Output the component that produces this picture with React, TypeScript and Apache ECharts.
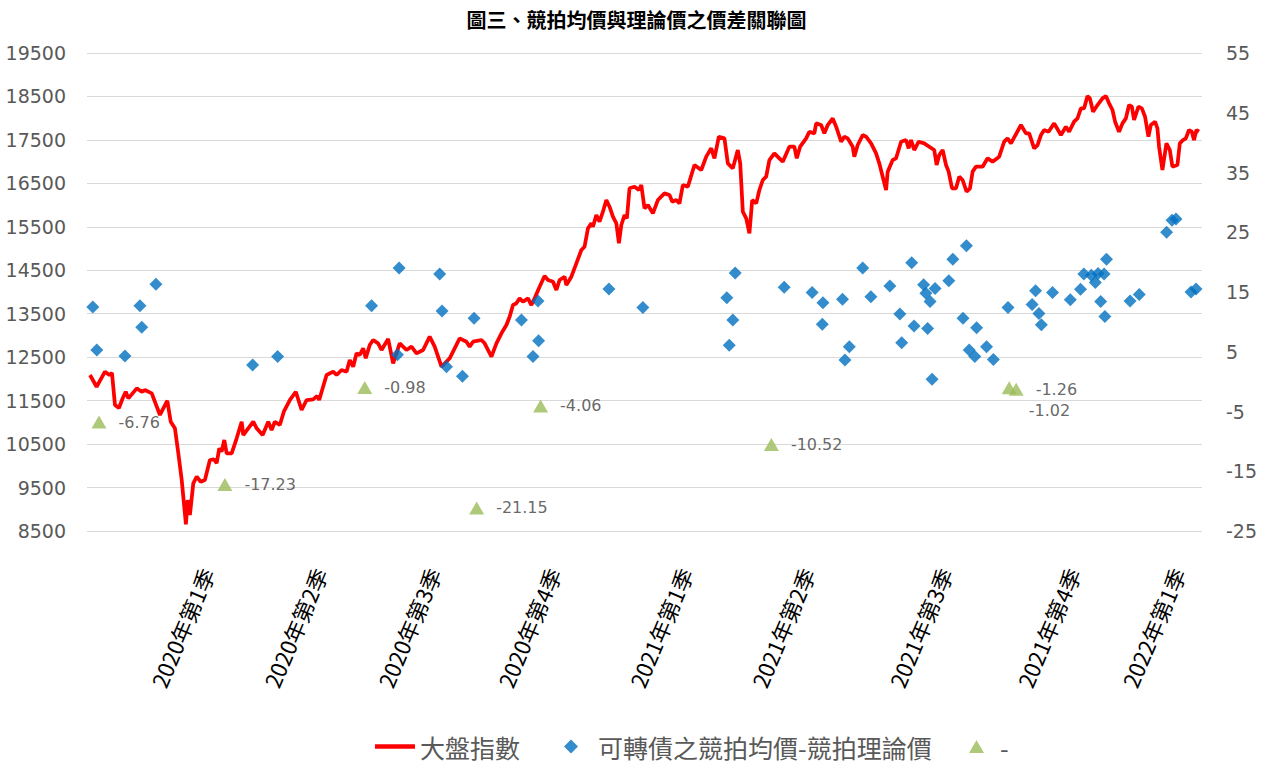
import React, { useEffect, useRef } from "react";
import * as echarts from "echarts";

// x unit: trading-day index from the start of the chart
const quarterLabels = [
  "2020年第1季", "2020年第2季", "2020年第3季", "2020年第4季",
  "2021年第1季", "2021年第2季", "2021年第3季", "2021年第4季", "2022年第1季",
];
const quarterTicks = [60, 116.5, 173.5, 233.5, 299.5, 360.5, 429.5, 493.5, 546];

const leftTicks = { min: 8500, max: 19500, interval: 1000 };
const rightTicks = { min: -25, max: 55, interval: 10 };

// 大盤指數 [day, close]
const indexPoints: [number, number][] = [
  [1.5, 12090], [4.8, 11820], [9, 12166], [11.2, 12090], [12.5, 12135], [14, 11399], [16, 11330],
  [17.9, 11560], [19.4, 11705], [20.7, 11553], [24.9, 11783], [27.4, 11705], [29, 11744], [32.4, 11668],
  [36.5, 11170], [40.2, 11498], [41.9, 11015], [44, 10863], [45.7, 10288], [47.4, 9674], [49.5, 8654],
  [50.4, 9213], [51.5, 8868], [53.2, 9598], [54.9, 9750], [56.9, 9634], [59, 9674], [61.5, 10134],
  [63.5, 10150], [64.9, 10058], [66.2, 10403], [67.4, 10325], [68.7, 10594], [69.9, 10288], [72.4, 10288],
  [74.9, 10633], [77.4, 11015], [78.2, 10709], [80.7, 10863], [83.2, 11015], [84.9, 10863], [87.9, 10709],
  [90.7, 11015], [92.4, 10824], [94, 11015], [96.5, 10939], [98.5, 11245], [101.5, 11514], [104.5, 11705],
  [107.4, 11284], [109.9, 11514], [113.2, 11530], [115.2, 11606], [116.2, 11514], [119.9, 12090], [123.2, 12166],
  [124.9, 12090], [127.4, 12205], [129.9, 12166], [131.5, 12435], [133.2, 12281], [134.9, 12589], [136.5, 12550],
  [138.2, 12704], [139.5, 12474], [141.5, 12780], [143.2, 12895], [145.7, 12819], [147.4, 12665], [150.7, 12920],
  [153.2, 12359], [156.5, 12819], [159.9, 12665], [162.4, 12742], [164.9, 12589], [168.2, 12665], [171.5, 12972],
  [174, 12742], [177.4, 12281], [181.5, 12474], [186.5, 12934], [189.9, 12856], [191.5, 12742], [193.2, 12856],
  [197.4, 12895], [199, 12819], [202.4, 12511], [204.9, 12819], [207.4, 13049], [209.9, 13240], [211.5, 13431],
  [213.2, 13700], [214.9, 13740], [216.5, 13854], [218.2, 13776], [220.7, 13854], [222.4, 13700], [224, 13854],
  [226.5, 14121], [229, 14367], [230.7, 14275], [233.2, 14237], [234.9, 14045], [236.5, 14275], [239, 14352],
  [239.9, 14160], [242.4, 14352], [244.9, 14659], [247.4, 14966], [249, 15042], [250.7, 15465], [252.4, 15580],
  [253.2, 15502], [254.9, 15772], [256.5, 15618], [258.2, 15848], [259.9, 16116], [261.5, 15963], [263.2, 15733],
  [264.9, 15580], [266.2, 15120], [267.4, 15541], [269, 15772], [270.2, 15695], [271.5, 16386], [274, 16424],
  [276.2, 16347], [277.4, 16462], [279, 15925], [280.7, 16001], [283.2, 15810], [285.7, 16116], [289, 16270],
  [291.5, 16231], [292.9, 16077], [294.9, 16116], [296.5, 16040], [298.2, 16462], [300.7, 16424], [304, 16923],
  [307.4, 16808], [309.9, 17115], [312.4, 17306], [314, 17076], [316.2, 17574], [319, 17536], [320.7, 16961],
  [323.2, 16846], [325.7, 17267], [326.9, 16961], [328.2, 15848], [329.9, 15695], [331.5, 15350], [332.9, 16116],
  [334.9, 16040], [336.5, 16347], [338.2, 16577], [339.9, 16654], [341.5, 17037], [344, 17191], [346.5, 17076],
  [348.2, 16999], [351.5, 17344], [354, 17344], [355.2, 17076], [356.9, 17344], [359.9, 17536], [361.5, 17689],
  [364, 17651], [364.9, 17881], [367.4, 17843], [369, 17651], [370.7, 17843], [373.2, 17996], [374.9, 17804],
  [377.4, 17459], [379, 17574], [380.7, 17536], [383.2, 17344], [384, 17115], [385.7, 17382], [388.2, 17612],
  [389.9, 17574], [392.4, 17421], [394.9, 17191], [396.5, 16961], [398.2, 16654], [399.9, 16347], [400.7, 16769],
  [403.2, 17037], [404.9, 17076], [407.4, 17459], [409.9, 17497], [411.2, 17306], [412.4, 17497], [414, 17267],
  [416.2, 17459], [419, 17421], [421.5, 17344], [424, 17267], [425.2, 16923], [426.5, 17153], [428.2, 17267],
  [429.9, 16923], [431.2, 16769], [432.9, 16386], [434.9, 16386], [436.5, 16654], [438.2, 16577], [440.2, 16308],
  [441.9, 16386], [443.2, 16769], [444.9, 16884], [448.2, 16884], [450.7, 17076], [453.2, 16999], [456.5, 17115],
  [459, 17459], [460.7, 17536], [462.4, 17421], [467.4, 17843], [469.9, 17651], [471.5, 17651], [474, 17306],
  [475.7, 17382], [477.4, 17612], [479, 17727], [481.2, 17689], [484, 17881], [487.4, 17612], [489.9, 17804],
  [491.5, 17689], [494, 17919], [495.7, 17996], [497.4, 18226], [499, 18226], [500.7, 18509], [501.9, 18456],
  [503.5, 18149], [505.7, 18303], [508.2, 18456], [509.9, 18509], [511.5, 18341], [513.2, 18188], [514.5, 17919],
  [516.5, 17689], [518.2, 17881], [519.9, 17996], [521.5, 18303], [522.9, 18265], [524, 17958], [526.2, 18265],
  [527.9, 18226], [529.5, 18034], [531.2, 17574], [532.4, 17843], [534.5, 17919], [535.7, 17766], [536.5, 17344],
  [538.2, 16808], [540.2, 17421], [541.9, 17267], [543.2, 16884], [545.7, 16923], [546.9, 17421], [548.5, 17497],
  [549.9, 17536], [551.5, 17727], [552.9, 17689], [554, 17497], [555.2, 17727], [556.5, 17689],
];

// 可轉債之競拍均價-競拍理論價 [day, spread]
const spreadPoints: [number, number][] = [
  [2.9, 12.5], [4.9, 5.3], [19, 4.3], [26.5, 12.7], [27.4, 9.1], [34.5, 16.3], [82.9, 2.8], [95.4, 4.2],
  [142.4, 12.7], [156.2, 19.0], [155.4, 4.5], [176.5, 18.0], [177.7, 11.8], [179.9, 2.5], [187.9, 0.9],
  [193.7, 10.6], [217.4, 10.3], [225.7, 13.5], [226, 6.85], [223.2, 4.2], [261.2, 15.5], [278.2, 12.4],
  [320.2, 14.05], [324.4, 18.2], [323.2, 10.3], [321.4, 6.1], [348.9, 15.8], [362.9, 14.9], [368.3, 13.2],
  [368, 9.6], [378.1, 13.8], [381.5, 5.85], [379.3, 3.6], [388.2, 19.0], [392.3, 14.2], [401.8, 16.0],
  [406.8, 11.3], [407.7, 6.5], [412.7, 19.9], [413.9, 9.3], [418.7, 16.2], [419.8, 14.8], [421.9, 13.4],
  [424.4, 15.6], [420.7, 8.9], [422.9, 0.4], [431.3, 16.9], [433.3, 20.5], [440.1, 22.75], [438.4, 10.6],
  [445.2, 9.0], [441.5, 5.3], [444.3, 4.2], [450.2, 5.85], [453.6, 3.7], [460.9, 12.4], [473, 12.9],
  [474.7, 15.2], [476.4, 11.4], [477.6, 9.5], [483.2, 14.9], [492.1, 13.7], [497.2, 15.45], [498.9, 18.0],
  [502.6, 17.8], [504.6, 16.6], [506, 18.1], [509, 18.0], [510.2, 20.5], [507.3, 13.4], [509.4, 10.9],
  [522, 13.5], [526.6, 14.6], [540.3, 25.0], [543, 27.0], [545, 27.2], [552.5, 15.0], [555, 15.5],
];

// "-" series [day, value]
const triangleDays = [6, 69, 139, 195, 227, 342.5, 461.5, 465];
const triangleValues = [-6.76, -17.23, -0.98, -21.15, -4.06, -10.52, -1.02, -1.26];

const seriesNames = ["大盤指數", "可轉債之競拍均價-競拍理論價", "-"];
const titleText = "圖三、競拍均價與理論價之價差關聯圖";

export default function App() {
  const ref = useRef<HTMLDivElement>(null);
  useEffect(() => {
    const chart = echarts.init(ref.current!, null, { renderer: "svg" });
    const numFont = "DejaVu Sans";
    const cjkFont = "Noto Sans CJK TC";
    const legendText = { fontSize: 25, color: "#595959", fontFamily: cjkFont };
    chart.setOption({
      animation: false,
      backgroundColor: "#ffffff",
      title: {
        text: titleText,
        left: "center",
        top: 4,
        textStyle: { fontSize: 20, fontWeight: "bold", color: "#000000", fontFamily: cjkFont },
      },
      legend: [
        {
          top: 734,
          left: 375,
          padding: 0,
          itemWidth: 40,
          itemHeight: 4.5,
          symbolKeepAspect: false,
          textStyle: { ...legendText, padding: [0, 0, 0, 0] },
          data: [{ name: seriesNames[0], icon: "rect", itemStyle: { color: "#FF0000" } }],
        },
        {
          top: 734,
          left: 564,
          padding: 0,
          itemWidth: 14,
          itemHeight: 14,
          textStyle: { ...legendText, padding: [0, 0, 0, 15] },
          data: [{ name: seriesNames[1], icon: "diamond", itemStyle: { color: "#0070C0" } }],
        },
        {
          top: 734,
          left: 969,
          padding: 0,
          itemWidth: 15,
          itemHeight: 13,
          textStyle: { ...legendText, padding: [0, 0, 0, 11] },
          data: [{ name: seriesNames[2], icon: "triangle", itemStyle: { color: "#9BBB59" } }],
        },
      ],
      grid: { left: 87, right: 71, top: 53, bottom: 238, containLabel: false },
      xAxis: {
        type: "value",
        min: 0,
        max: 558,
        axisLine: { show: false },
        axisTick: { show: false },
        splitLine: { show: false },
        axisLabel: {
          customValues: quarterTicks,
          formatter: (v: number) => {
            const i = quarterTicks.indexOf(v);
            return i >= 0 ? quarterLabels[i] : "";
          },
          rotate: 67,
          margin: 38,
          fontSize: 22,
          color: "#000000",
          fontFamily: cjkFont,
        },
      },
      yAxis: [
        {
          type: "value",
          ...leftTicks,
          axisLine: { show: false },
          axisTick: { show: false },
          splitLine: { show: true, lineStyle: { color: "#D9D9D9", width: 1 } },
          axisLabel: {
            fontSize: 19, color: "#595959", fontFamily: numFont, margin: 21,
            formatter: (v: number) => String(v),
          },
        },
        {
          type: "value",
          position: "right",
          ...rightTicks,
          axisLine: { show: false },
          axisTick: { show: false },
          splitLine: { show: false },
          axisLabel: {
            fontSize: 19, color: "#595959", fontFamily: numFont, margin: 24,
            formatter: (v: number) => String(v),
          },
        },
      ],
      series: [
        {
          name: seriesNames[0],
          type: "line",
          yAxisIndex: 0,
          data: indexPoints,
          symbol: "none",
          showSymbol: false,
          lineStyle: { color: "#FF0000", width: 3.75 },
          itemStyle: { color: "#FF0000" },
          z: 2,
        },
        {
          name: seriesNames[1],
          type: "scatter",
          yAxisIndex: 1,
          data: spreadPoints,
          symbol: "diamond",
          symbolSize: 13,
          itemStyle: { color: "#0070C0" },
          z: 3,
        },
        {
          name: seriesNames[2],
          type: "scatter",
          yAxisIndex: 1,
          symbol: "triangle",
          symbolSize: [15, 13],
          itemStyle: { color: "#9BBB59" },
          z: 4,
          label: {
            show: true,
            position: "right",
            distance: 12,
            fontSize: 16,
            color: "#404040",
            fontFamily: numFont,
            formatter: (p: any) => Number(p.value[1]).toFixed(2),
          },
          data: triangleDays.map((d, i) =>
            i === 6
              ? { value: [d, triangleValues[i]], label: { offset: [0, 23] } }
              : { value: [d, triangleValues[i]] }
          ),
        },
      ],
    });
    return () => chart.dispose();
  }, []);
  return (
    <div
      ref={ref}
      style={{ position: "fixed", left: 0, top: 0, width: 1273, height: 769 }}
    />
  );
}
